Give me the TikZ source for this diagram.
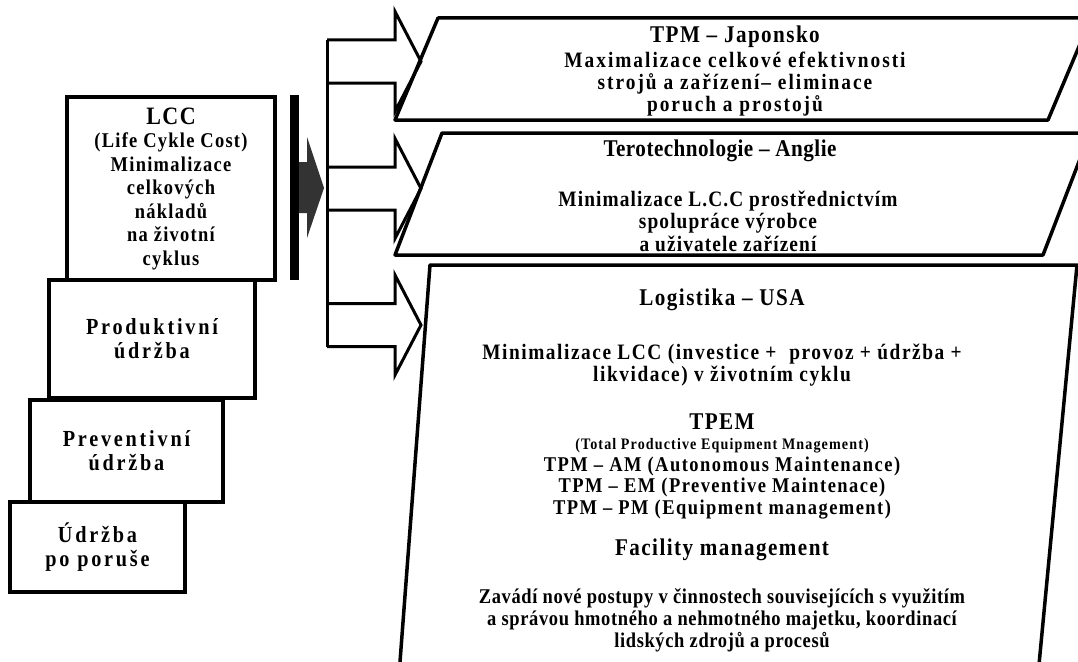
\documentclass[tikz,border=0pt]{standalone}
\usepackage{fontspec}
\setmainfont{Liberation Serif}
\newfontfamily\narrowserif[FakeStretch=0.88]{Liberation Serif}

\begin{document}
\begin{tikzpicture}[x=1pt,y=-1pt,
    stage/.style={draw, line width=4pt, align=center, inner sep=0pt,
        font=\narrowserif\bfseries\fontsize{23}{24}\selectfont\addfontfeature{LetterSpace=12}},
    heading/.style={align=center,
        font=\narrowserif\bfseries\fontsize{24}{26}\selectfont\addfontfeature{LetterSpace=6}},
    body/.style={align=center,
        font=\narrowserif\bfseries\fontsize{22}{22.5}\selectfont\addfontfeature{LetterSpace=5}},
    frame/.style={line width=3.5pt, line join=round},
    branch/.style={line width=3pt, line join=miter}]
    \useasboundingbox (0,0) rectangle (1078,661);

    % stages of maintenance, stacked from the bottom
    \node[stage, minimum width=175pt, minimum height=90pt] (breakdown) at (97.5,547) {Údržba\\po poruše};
    \node[stage, minimum width=193pt, minimum height=102pt] (preventive) at (126.5,451) {Preventivní\\údržba};
    \node[stage, minimum width=206pt, minimum height=118pt] (productive) at (152,339) {Produktivní\\údržba};
    \node[stage, minimum width=208pt, minimum height=183pt,
        font=\narrowserif\bfseries\fontsize{21}{23.5}\selectfont\addfontfeature{LetterSpace=6}] (lcc) at (171,188.5)
        {{\fontsize{25}{23.5}\selectfont LCC}\\(Life Cykle Cost)\\Minimalizace\\celkových\\nákladů\\na životní\\cyklus};

    % bar and filled arrow
    \fill (290,95) rectangle (299,280);
    \fill[black!80] (299,162) -- (307,162) -- (307,137) -- (324,188) -- (307,238) -- (307,213) -- (299,213) -- cycle;

    % branching arrows
    \draw[branch] (327,40) -- (327,347);
    \foreach \y in {61.5,188.5,325}
        \draw[branch] (327,\y-21.5) -- (395,\y-21.5) -- (395,\y-50) -- (421,\y)
            -- (395,\y+50) -- (395,\y+21.5) -- (327,\y+21.5);

    % approaches
    \begin{scope}
        \clip (0,0) rectangle (1078,661);
        \draw[frame] (438,18) -- (1091,18) -- (1048,120) -- (395,120) -- cycle;
        \draw[frame] (442,133) -- (1090,133) -- (1043,255) -- (395,255) -- cycle;
        \draw[frame] (430,265) -- (1077,265) -- (1038,675) -- (399,675) -- cycle;
    \end{scope}

    \node[heading] (japan) at (735,37) {TPM – Japonsko};
    \node[body, font=\narrowserif\bfseries\fontsize{22}{22}\selectfont\addfontfeature{LetterSpace=9}] (japan text) at (735,84)
        {Maximalizace celkové efektivnosti\\strojů a zařízení– eliminace\\poruch a prostojů};

    \node[heading, font=\narrowserif\bfseries\fontsize{24}{26}\selectfont\addfontfeature{LetterSpace=2}] (england) at (720,151) {Terotechnologie – Anglie};
    \node[body] (england text) at (728,221) {Minimalizace L.C.C prostřednictvím\\spolupráce výrobce\\a uživatele zařízení};

    \node[heading] (usa) at (722,300) {Logistika – USA};
    \node[body, font=\narrowserif\bfseries\fontsize{22}{22.5}\selectfont\addfontfeature{LetterSpace=7}] (usa text) at (722,365)
        {Minimalizace LCC (investice +\ \ provoz + údržba +\\likvidace) v životním cyklu};
    \node[heading] (tpem) at (722,422) {TPEM};
    \node[body, font=\narrowserif\bfseries\fontsize{21}{21.5}\selectfont\addfontfeature{LetterSpace=7}] (tpem text) at (722,479)
        {{\fontsize{16}{21.5}\selectfont (Total Productive Equipment Mnagement)}\\TPM – AM (Autonomous Maintenance)\\TPM – EM (Preventive Maintenace)\\TPM – PM (Equipment management)};
    \node[heading] (facility) at (722,550) {Facility management};
    \node[body, font=\narrowserif\bfseries\fontsize{21}{22}\selectfont\addfontfeature{LetterSpace=3}] (facility text) at (722,620)
        {Zavádí nové postupy v činnostech souvisejících s využitím\\a správou hmotného a nehmotného majetku, koordinací\\lidských zdrojů a procesů};
\end{tikzpicture}
\end{document}
